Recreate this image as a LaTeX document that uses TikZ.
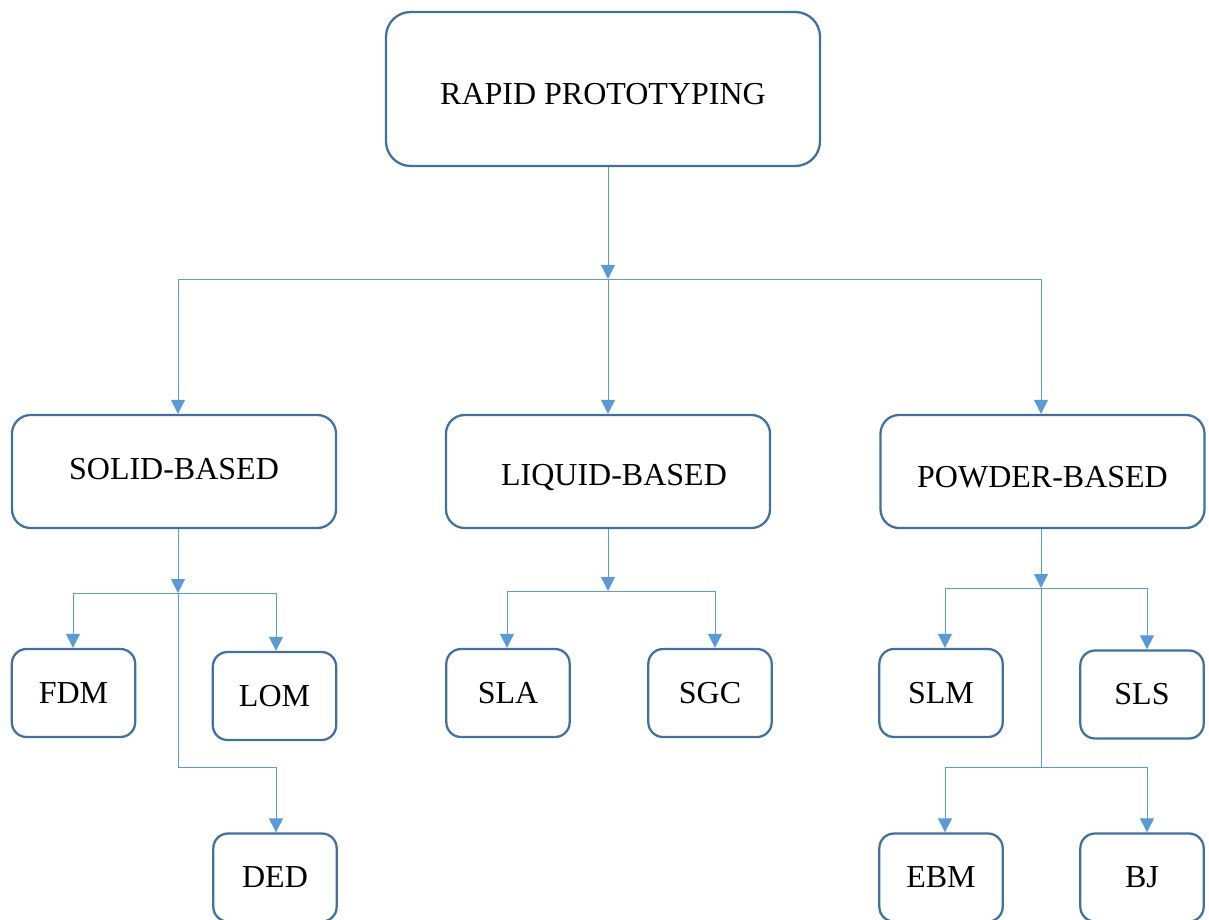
\documentclass[tikz,border=0pt]{standalone}
\usepackage{fontspec}
\setmainfont{Liberation Serif}
\usetikzlibrary{arrows.meta}
\definecolor{boxc}{HTML}{41719C}
\definecolor{linec}{HTML}{5B9BD5}
\begin{document}
\begin{tikzpicture}[x=0.75pt,y=-0.75pt,
  basebox/.style={draw=boxc, line width=1.7pt, fill=white, inner sep=0pt,
    font=\fontsize{24}{28}\selectfont, text=black},
  bigbox/.style={basebox, rounded corners=18.5pt, minimum width=325.5pt, minimum height=115.5pt},
  midbox/.style={basebox, rounded corners=14pt, minimum width=243pt, minimum height=84.75pt},
  smallbox/.style={basebox, rounded corners=11pt, minimum width=92.5pt, minimum height=66pt},
  conn/.style={draw=linec, line width=0.75pt},
  arr/.style={conn, -{Triangle[length=10.5pt,width=10.5pt]}, linec}]
\useasboundingbox (0,0) rectangle (1209,920);
\clip (0,0) rectangle (1209,920);
\fill[white] (0,0) rectangle (1209,920);

% nodes
\node[bigbox, text height=23.2pt, text depth=0pt] (top) at (603,89) {RAPID PROTOTYPING};
\node[midbox, text height=15.7pt, text depth=3pt] (solid) at (174,471.5) {SOLID-BASED};
\node[midbox, text height=21.7pt, text depth=0pt] (liquid) at (608,471.5) {\hspace*{9pt}LIQUID-BASED};
\node[midbox, text height=24.7pt, text depth=0pt] (powder) at (1042.5,471.5) {POWDER-BASED};
\node[smallbox] (fdm) at (73.5,693) {FDM};
\node[smallbox] (lom) at (274.5,696) {LOM};
\node[smallbox] (ded) at (275,877.5) {DED};
\node[smallbox] (sla) at (508,693) {SLA};
\node[smallbox] (sgc) at (710,693) {SGC};
\node[smallbox] (slm) at (941,693) {SLM};
\node[smallbox] (sls) at (1142,694.5) {SLS};
\node[smallbox] (ebm) at (941,877.5) {EBM};
\node[smallbox] (bj) at (1142,877.5) {BJ};

% junction coordinates
\coordinate (j0) at (608,279);
\coordinate (j0l) at (178,279);
\coordinate (j0r) at (1041,279);
\coordinate (js) at (178,593);
\coordinate (jsl) at (73,593);
\coordinate (jsr) at (276,593);
\coordinate (jsd) at (178,767);
\coordinate (jsdr) at (276,767);
\coordinate (jl) at (608,591);
\coordinate (jll) at (507,591);
\coordinate (jlr) at (715,591);
\coordinate (jp) at (1041,588);
\coordinate (jpl) at (945,588);
\coordinate (jpr) at (1147,588);
\coordinate (jpd) at (1041,767);
\coordinate (jpdl) at (945,767);
\coordinate (jpdr) at (1147,767);

% level 1
\draw[arr] (top.south -| j0) -- (j0);
\draw[conn] (j0l) -- (j0r);
\draw[arr] (j0l) -- (solid.north -| j0l);
\draw[arr] (j0) -- (liquid.north -| j0);
\draw[arr] (j0r) -- (powder.north -| j0r);

% solid subtree
\draw[arr] (solid.south -| js) -- (js);
\draw[conn] (jsl) -- (jsr);
\draw[arr] (jsl) -- (fdm.north -| jsl);
\draw[arr] (jsr) -- (lom.north -| jsr);
\draw[conn] (js) -- (jsd) -- (jsdr);
\draw[arr] (jsdr) -- (ded.north -| jsdr);

% liquid subtree
\draw[arr] (liquid.south -| jl) -- (jl);
\draw[conn] (jll) -- (jlr);
\draw[arr] (jll) -- (sla.north -| jll);
\draw[arr] (jlr) -- (sgc.north -| jlr);

% powder subtree
\draw[arr] (powder.south -| jp) -- (jp);
\draw[conn] (jpl) -- (jpr);
\draw[arr] (jpl) -- (slm.north -| jpl);
\draw[arr] (jpr) -- (sls.north -| jpr);
\draw[conn] (jp) -- (jpd);
\draw[conn] (jpdl) -- (jpdr);
\draw[arr] (jpdl) -- (ebm.north -| jpdl);
\draw[arr] (jpdr) -- (bj.north -| jpdr);
\end{tikzpicture}
\end{document}
